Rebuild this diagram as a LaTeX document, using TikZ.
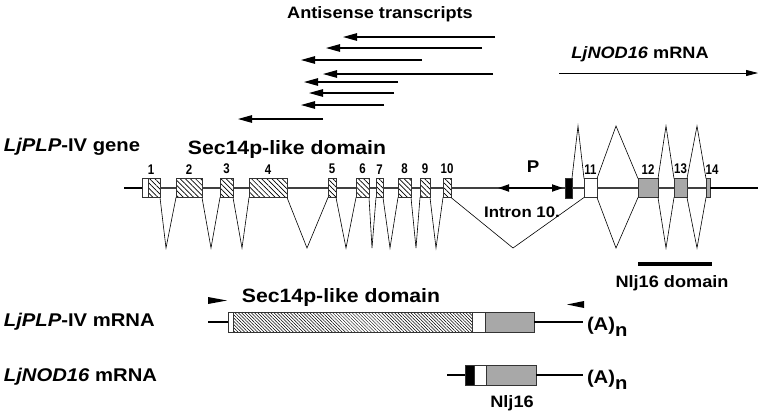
\documentclass[tikz,border=0pt]{standalone}
\usepackage{fontspec}
\setmainfont{Liberation Sans}[FakeStretch=1.1]
\usetikzlibrary{arrows.meta}
\usetikzlibrary{patterns.meta}
\usetikzlibrary{positioning}
\definecolor{exongray}{RGB}{168,168,168}
\tikzset{
	every node/.style={inner sep=0pt, outer sep=0pt, font=\bfseries},
	bigtext/.style={font=\fontsize{18.4}{20}\selectfont\bfseries},
	domaintext/.style={font=\fontsize{19.3}{21}\selectfont\bfseries},
	midtext/.style={font=\fontsize{16.5}{18}\selectfont\bfseries},
	smalltext/.style={font=\fontsize{15.3}{17}\selectfont\bfseries},
	numtext/.style={font=\fontsize{14}{15}\selectfont\bfseries\addfontfeature{FakeStretch=0.82}},
	backbone/.style={draw=black!75, line width=1.2pt},
	utr/.style={line width=2.4pt},
	intron/.style={line width=0.6pt},
	exon/.style={
		draw=black!80,
		rectangle,
		line width=0.6pt,
		minimum height=19pt,
	},
	hatched/.style={
		exon,
		preaction={fill=white},
		pattern={Lines[angle=-45,distance=3.6pt,line width=0.7pt]},
	},
	mexon/.style={
		exon,
		minimum height=20pt,
	},
	mhatched/.style={
		preaction={fill=white},
		pattern={Lines[angle=-45,distance=2.3pt,line width=0.5pt]},
	},
	antisense/.style={
		line width=1.1pt,
		-{Triangle[length=14pt,width=7.5pt]}
	},
	sense/.style={
		line width=0.8pt,
		-{Triangle[length=12pt,width=6pt]}
	},
	promoter/.style={
		line width=1.8pt,
		{Triangle[length=11pt,width=7pt]}-{Triangle[length=11pt,width=7pt]}
	},
	domainbar/.style={line width=4pt},
}

\begin{document}
\begin{tikzpicture}[x=1pt,y=-1pt]
	\useasboundingbox (0,0) rectangle (760,416);

	% antisense transcripts
	\node[midtext] (astitle) at (380,14) {Antisense transcripts};
	\foreach \y/\r/\l [count=\i] in {37/495/343, 48/482/326, 60/422/301, 74/493/323,
			82/398/304, 93/394/309, 105/384/301, 119/323/238}{
		\coordinate (asr\i) at (\r,\y);
		\coordinate (asl\i) at (\l,\y);
		\draw[antisense] (asr\i) -- (asl\i);
	}

	\node[midtext] (nodtitle) at (640,54) {\textit{LjNOD16} mRNA};
	\coordinate (nodl) at (559,73);
	\coordinate (nodr) at (758,73);
	\draw[sense] (nodl) -- (nodr);

	% gene
	\node[bigtext, anchor=west] (genelabel) at (4,147) {\textit{LjPLP}-IV gene};
	\node[domaintext] (secgene) at (287,150) {Sec14p-like domain};

	\node[hatched, minimum width=18pt] (e1) at (151,188) {};
	\node[exon, fill=white, minimum width=6pt, anchor=west] (e1u) at (e1.west) {};
	\node[hatched, minimum width=26pt] (e2) at (189,188) {};
	\node[hatched, minimum width=13pt] (e3) at (226.5,188) {};
	\node[hatched, minimum width=38pt] (e4) at (268,188) {};
	\node[hatched, minimum width=8pt] (e5) at (332,188) {};
	\node[hatched, minimum width=13pt] (e6) at (362.5,188) {};
	\node[hatched, minimum width=7pt] (e7) at (379.5,188) {};
	\node[hatched, minimum width=13pt] (e8) at (404.5,188) {};
	\node[hatched, minimum width=10pt] (e9) at (425,188) {};
	\node[hatched, minimum width=8pt] (e10) at (447,188) {};
	\node[exon, fill=black, minimum width=7pt, minimum height=20pt] (nodx) at (568.5,188) {};
	\node[exon, fill=white, minimum width=13pt] (e11) at (590.5,188) {};
	\node[exon, fill=exongray, minimum width=20pt] (e12) at (648,188) {};
	\node[exon, fill=exongray, minimum width=13pt] (e13) at (680.5,188) {};
	\node[exon, fill=exongray, minimum width=4pt] (e14) at (708,188) {};

	\foreach \n in {1,...,13}
		\node[numtext, above=4.5pt of e\n] (n\n) {\n};
	\node[numtext, above=4.5pt of e14, xshift=4pt] (n14) {14};

	\coordinate (gl) at (124,188);
	\coordinate (gr) at (758,188);
	\draw[utr] (gl) -- (e1.west);
	\draw[utr] (e14.east) -- (gr);
	\foreach \a/\b in {e1/e2, e2/e3, e3/e4, e4/e5, e5/e6, e6/e7, e7/e8, e8/e9, e9/e10,
			e10/nodx, nodx/e11, e11/e12, e12/e13, e13/e14}
		\draw[backbone] (\a.east) -- (\b.west);

	% introns below
	\foreach \a/\b/\x [count=\i] in {e1/e2/166, e2/e3/211, e3/e4/242, e4/e5/307, e5/e6/346,
			e6/e7/372, e7/e8/390, e8/e9/416, e9/e10/436, e10/e11/513, e11/e12/616,
			e12/e13/666, e13/e14/697}{
		\coordinate (v\i) at (\x,248);
		\draw[intron] (\a.south east) -- (v\i) -- (\b.south west);
	}
	% introns above
	\foreach \a/\b/\x [count=\i] in {nodx/e11/578, e11/e12/616, e12/e13/666, e13/e14/697}{
		\coordinate (h\i) at (\x,126);
		\draw[intron] (\a.north east) -- (h\i) -- (\b.north west);
	}

	\coordinate (pl) at (498,188);
	\coordinate (pr) at (563,188);
	\draw[promoter] (pl) -- (pr);
	\node[font=\fontsize{17}{18}\selectfont\bfseries] (plabel) at (533,167) {P};
	\node[smalltext] (intronlabel) at (522,212) {Intron 10.};

	\coordinate (nljl) at (638,264);
	\coordinate (nljr) at (712,264);
	\draw[domainbar] (nljl) -- (nljr);
	\node[midtext] (nljlabel) at (672,283) {Nlj16 domain};

	% LjPLP-IV mRNA
	\node[bigtext, anchor=west] (plplabel) at (4,322) {\textit{LjPLP}-IV mRNA};
	\node[domaintext] (secmrna) at (341,298) {Sec14p-like domain};
	\fill (208,297) -- (227,300.5) -- (208,304) -- cycle;
	\fill (584,301) -- (567,304.5) -- (584,308) -- cycle;

	\node[mexon, fill=white, minimum width=5pt] (m1a) at (230.5,322) {};
	\node[mexon, mhatched, minimum width=239pt, right=0pt of m1a] (m1b) {};
	\node[mexon, fill=white, minimum width=13pt, right=0pt of m1b] (m1c) {};
	\node[mexon, fill=exongray, minimum width=49pt, right=0pt of m1c] (m1d) {};
	\coordinate (m1l) at (208,322);
	\coordinate (m1r) at (583,322);
	\draw[utr] (m1l) -- (m1a.west);
	\draw[utr] (m1d.east) -- (m1r);
	\node[bigtext, anchor=base west] (polya1) at (587,330) {(A)\raisebox{-6pt}{n}};

	% LjNOD16 mRNA
	\node[bigtext, anchor=west] (nodlabel) at (4,377) {\textit{LjNOD16} mRNA};
	\node[mexon, fill=black, minimum width=9pt] (m2a) at (469.5,375) {};
	\node[mexon, fill=white, minimum width=12pt, right=0pt of m2a] (m2b) {};
	\node[mexon, fill=exongray, minimum width=50pt, right=0pt of m2b] (m2c) {};
	\coordinate (m2l) at (447,375);
	\coordinate (m2r) at (583,375);
	\draw[utr] (m2l) -- (m2a.west);
	\draw[utr] (m2c.east) -- (m2r);
	\node[bigtext, anchor=base west] (polya2) at (587,383) {(A)\raisebox{-6pt}{n}};
	\node[midtext] (nljshort) at (512,403) {Nlj16};

\end{tikzpicture}
\end{document}
